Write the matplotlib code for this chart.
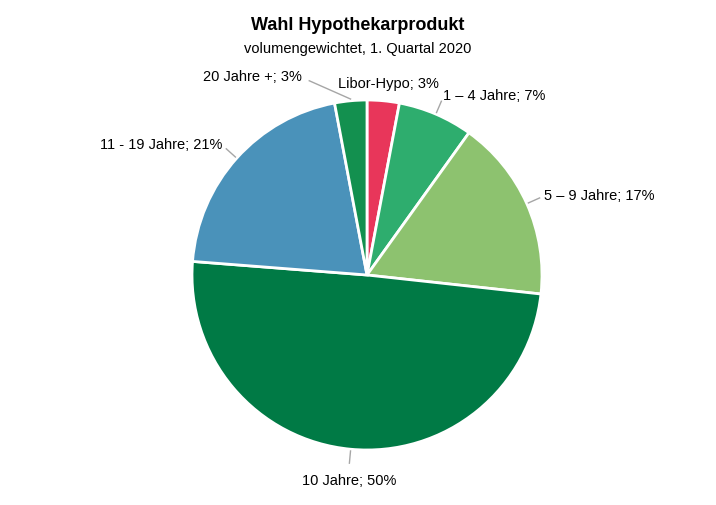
import matplotlib.pyplot as plt
import numpy as np

labels = ["Libor-Hypo", "1 – 4 Jahre", "5 – 9 Jahre", "10 Jahre", "11 - 19 Jahre", "20 Jahre +"]
values = [3, 7, 17, 50, 21, 3]
colors = ["#E8365A", "#2EAD6E", "#8DC26F", "#007A45", "#4A92BA", "#13904F"]

plt.rcParams["font.family"] = ["Liberation Sans", "DejaVu Sans"]
fig = plt.figure(figsize=(7.16, 5.05), dpi=100)
ax = fig.add_axes([192 / 716, 55 / 505, 350 / 716, 350 / 505])
wedges, _ = ax.pie(values, colors=colors, startangle=90, counterclock=False,
                   wedgeprops=dict(edgecolor="white", linewidth=2))
ax.set_xlim(-1, 1)
ax.set_ylim(-1, 1)

for w, lab, v in zip(wedges, labels, values):
    ang = np.deg2rad((w.theta1 + w.theta2) / 2)
    c, s = np.cos(ang), np.sin(ang)
    if lab == "Libor-Hypo":
        ax.text(0.12, 1.05, f"{lab}; {v}%", ha="center", va="bottom", fontsize=10.5)
        continue
    if lab == "20 Jahre +":
        ax.plot([c * 1.01, -0.33], [s * 1.01, 1.11], color="#A6A6A6", lw=1, clip_on=False)
        ax.text(-0.37, 1.13, f"{lab}; {v}%", ha="right", va="center", fontsize=10.5)
        continue
    ax.plot([c * 1.01, c * 1.08], [s * 1.01, s * 1.08], color="#A6A6A6", lw=1, clip_on=False)
    ha = "left" if c > 0.1 else ("right" if c < -0.1 else "center")
    va = "top" if s < -0.9 else "center"
    ax.text(c * 1.11, s * 1.11 - (0.03 if va == "top" else 0), f"{lab}; {v}%",
            ha=ha, va=va, fontsize=10.5)

fig.text(0.5, 0.94, "Wahl Hypothekarprodukt", ha="center", fontsize=13, fontweight="bold")
fig.text(0.5, 0.895, "volumengewichtet, 1. Quartal 2020", ha="center", fontsize=10.5)
fig.savefig("out.png", dpi=100)
